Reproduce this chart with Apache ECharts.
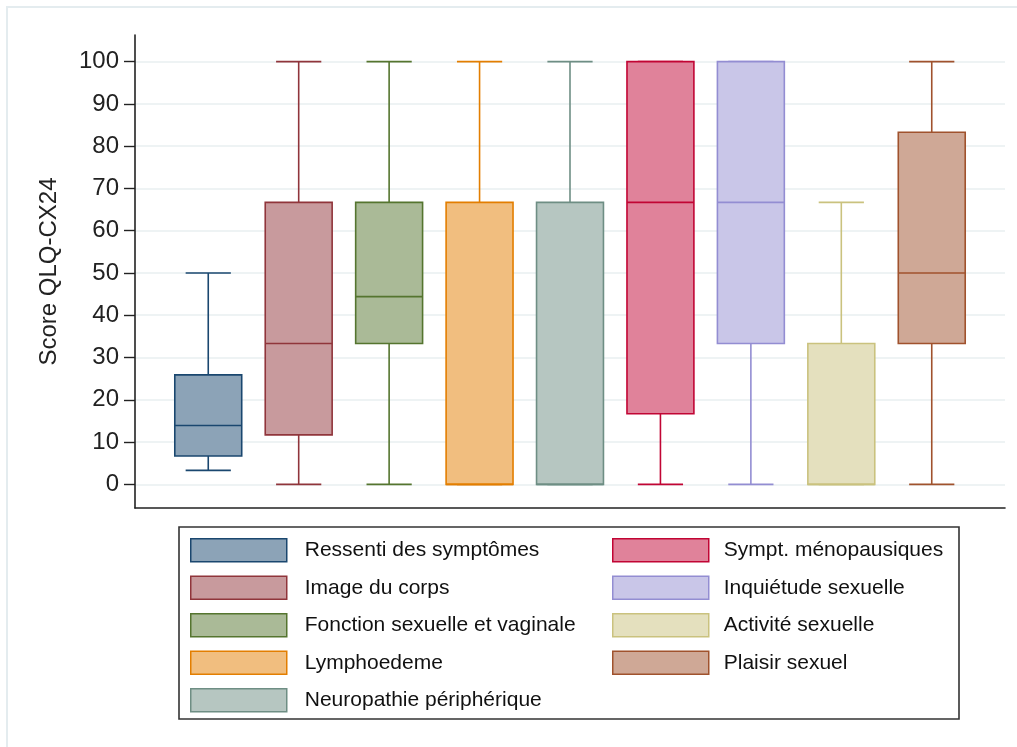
<!DOCTYPE html>
<html>
<head>
<meta charset="utf-8">
<script src="https://cdn.jsdelivr.net/npm/echarts@6/dist/echarts.min.js"></script>
<style>
  html, body { margin: 0; padding: 0; background: #fff; }
  #container { width: 1017px; height: 747px; }
</style>
</head>
<body>
<div id="container"></div>
<script>
"use strict";

// QLQ-CX24 scores, one box per dimension
const categories = [
    'Ressenti des symptômes', 'Image du corps', 'Fonction sexuelle et vaginale',
    'Lymphoedeme', 'Neuropathie périphérique', 'Sympt. ménopausiques',
    'Inquiétude sexuelle', 'Activité sexuelle', 'Plaisir sexuel'
];
const lows    = [3.3, 0,    0,    0,    0,    0,    0,    0,    0];
const q1s     = [6.7, 11.7, 33.3, 0,    0,    16.7, 33.3, 0,    33.3];
const medians = [13.9, 33.3, 44.4, 0,   0,    66.7, 66.7, 0,    50];
const q3s     = [25.9, 66.7, 66.7, 66.7, 66.7, 100, 100,  33.3, 83.3];
const highs   = [50,  100,  100,  100,  100,  100,  100,  66.7, 100];
const yTicks  = [0, 10, 20, 30, 40, 50, 60, 70, 80, 90, 100];

// stata s2color lines + 50% fills
const lineColors = ['#1a476f', '#90353b', '#55752f', '#e37e00', '#6e8e84', '#c10534', '#938dd2', '#cac27e', '#a0522d'];
const fillColors = ['#8ca3b7', '#c89a9d', '#aaba97', '#f1be7f', '#b6c6c1', '#e0829a', '#c9c6e8', '#e4e0be', '#cfa896'];

const FONT = "'Liberation Sans', Arial, sans-serif";

let myChart = echarts.init(document.getElementById('container'));

function renderBox(params, api) {
    const i = params.seriesIndex;
    const x = api.value(0);
    const pLow = api.coord([x, api.value(1)]);
    const pQ1 = api.coord([x, api.value(2)]);
    const pMed = api.coord([x, api.value(3)]);
    const pQ3 = api.coord([x, api.value(4)]);
    const pHigh = api.coord([x, api.value(5)]);
    const unit = api.size([1, 0])[0];
    const boxW = unit * 0.74;
    const capW = unit * 0.5;
    const cx = pLow[0];
    const line = { stroke: lineColors[i], lineWidth: 1.6 };
    return {
        type: 'group',
        children: [
            { type: 'line', shape: { x1: cx, y1: pLow[1], x2: cx, y2: pQ1[1] }, style: line },
            { type: 'line', shape: { x1: cx, y1: pQ3[1], x2: cx, y2: pHigh[1] }, style: line },
            { type: 'line', shape: { x1: cx - capW / 2, y1: pLow[1], x2: cx + capW / 2, y2: pLow[1] }, style: line },
            { type: 'line', shape: { x1: cx - capW / 2, y1: pHigh[1], x2: cx + capW / 2, y2: pHigh[1] }, style: line },
            {
                type: 'rect',
                shape: { x: cx - boxW / 2, y: pQ3[1], width: boxW, height: pQ1[1] - pQ3[1] },
                style: { fill: fillColors[i], stroke: lineColors[i], lineWidth: 1.6 }
            },
            { type: 'line', shape: { x1: cx - boxW / 2, y1: pMed[1], x2: cx + boxW / 2, y2: pMed[1] }, style: line }
        ]
    };
}

let series = categories.map(function (name, i) {
    return {
        type: 'custom',
        name: name,
        renderItem: renderBox,
        encode: { x: 0, y: [1, 2, 3, 4, 5] },
        itemStyle: { color: fillColors[i], borderColor: lineColors[i] },
        data: [[i + 1, lows[i], q1s[i], medians[i], q3s[i], highs[i]]],
        silent: true
    };
});

function legendData(names, offset) {
    return names.map(function (name, k) {
        return {
            name: name,
            itemStyle: { color: fillColors[offset + k], borderColor: lineColors[offset + k], borderWidth: 1.5 }
        };
    });
}

let legendCommon = {
    orient: 'vertical',
    icon: 'rect',
    itemWidth: 96,
    itemHeight: 23,
    itemGap: 13,
    padding: 0,
    selectedMode: false,
    top: 538
};

let option = {
    backgroundColor: '#fff',
    animation: false,
    grid: { left: 135, right: 12, top: 35, bottom: 239 },
    xAxis: {
        type: 'value',
        min: 0.19,
        max: 9.81,
        axisLine: { show: true, onZero: false, lineStyle: { color: '#222', width: 1.6 } },
        axisTick: { show: false },
        axisLabel: { show: false },
        splitLine: { show: false }
    },
    yAxis: {
        type: 'value',
        min: -5.6,
        max: 106.3,
        name: 'Score QLQ-CX24',
        nameLocation: 'middle',
        nameGap: 74,
        nameTextStyle: { fontFamily: FONT, fontSize: 24, color: '#222' },
        axisLine: { show: true, onZero: false, lineStyle: { color: '#222', width: 1.6 } },
        axisTick: { show: true, length: 11, customValues: yTicks, lineStyle: { color: '#222', width: 1.4 } },
        axisLabel: { customValues: yTicks, margin: 16, fontFamily: FONT, fontSize: 24, color: '#222' },
        splitLine: { show: true, lineStyle: { color: '#e8eff1', width: 1.6 } }
    },
    legend: [
        Object.assign({}, legendCommon, {
            left: 190,
            data: legendData(categories.slice(0, 5), 0),
            textStyle: { fontFamily: FONT, fontSize: 21, color: '#111', padding: [0, 0, 0, 13] }
        }),
        Object.assign({}, legendCommon, {
            left: 612,
            data: legendData(categories.slice(5), 5),
            textStyle: { fontFamily: FONT, fontSize: 21, color: '#111', padding: [0, 0, 0, 10] }
        })
    ],
    graphic: [
        {
            type: 'rect', silent: true, z: -10,
            shape: { x: 7, y: 7, width: 1100, height: 1000 },
            style: { fill: 'none', stroke: '#e4ecef', lineWidth: 2 }
        },
        {
            type: 'rect', silent: true,
            shape: { x: 179, y: 527, width: 780, height: 192 },
            style: { fill: 'none', stroke: '#333', lineWidth: 1.6 }
        }
    ],
    series: series
};

myChart.setOption(option);

window.addEventListener('resize', function () {
    myChart.resize();
});
</script>
</body>
</html>
